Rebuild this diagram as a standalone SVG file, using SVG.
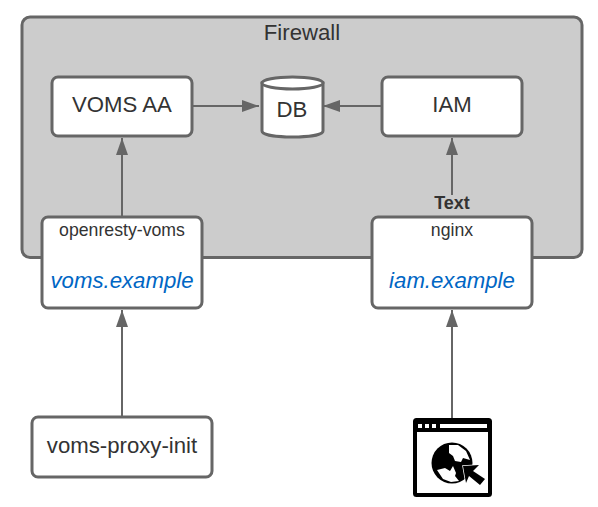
<svg xmlns="http://www.w3.org/2000/svg" width="598" height="507" viewBox="0 0 598 507">
<style>
text{font-family:"Liberation Sans",Arial,sans-serif;fill:#333;text-anchor:middle}
.box{fill:#fff;stroke:#666;stroke-width:3}
.conn{fill:none;stroke:#666;stroke-width:2}
.url{font-style:italic;fill:#0066c4;font-size:22.2px}
.big{font-size:22.2px}
.small{font-size:17.700px}
</style>
<defs>
<marker id="arrow" markerUnits="userSpaceOnUse" markerWidth="18" markerHeight="14" refX="17" refY="6.500" orient="auto">
<path d="M0 0.500L17 6.500L0 12.500Z" fill="#666"/>
</marker>
</defs>
<g id="firewall">
<rect x="22" y="17" width="560" height="240.500" rx="8" fill="#ccc" stroke="#666" stroke-width="3"/>
<text x="302" y="40" class="big">Firewall</text>
</g>
<g id="connectors">
<path class="conn" d="M193 106H259" marker-end="url(#arrow)"/>
<path class="conn" d="M381 106H323" marker-end="url(#arrow)"/>
<path class="conn" d="M122 216V138" marker-end="url(#arrow)"/>
<path class="conn" d="M452 195V138" marker-end="url(#arrow)"/>
<path class="conn" d="M122 416V310" marker-end="url(#arrow)"/>
<path class="conn" d="M452 418V310" marker-end="url(#arrow)"/>
<text x="452" y="209" font-size="18" font-weight="bold">Text</text>
</g>
<g id="voms-aa">
<rect class="box" x="52" y="77" width="140" height="59" rx="6"/>
<text x="122" y="112" class="big">VOMS AA</text>
</g>
<g id="db">
<path class="box" d="M262 83V131C262 139 323 139 323 131V83Z"/>
<ellipse cx="292.500" cy="83" rx="30.500" ry="6" fill="#fff" stroke="#666" stroke-width="3"/>
<text x="292" y="117" class="big">DB</text>
</g>
<g id="iam">
<rect class="box" x="382" y="77" width="140" height="59" rx="6"/>
<text x="452" y="112" class="big">IAM</text>
</g>
<g id="openresty-voms">
<rect class="box" x="42" y="217" width="160" height="91" rx="6"/>
<text x="122" y="236" class="small">openresty-voms</text>
<text x="122" y="288" class="url">voms.example</text>
</g>
<g id="nginx">
<rect class="box" x="372" y="217" width="160" height="91" rx="6"/>
<text x="452" y="236" class="small">nginx</text>
<text x="452" y="288" class="url">iam.example</text>
</g>
<g id="voms-proxy-init">
<rect class="box" x="32" y="417" width="180" height="60" rx="6"/>
<text x="122" y="453" class="big">voms-proxy-init</text>
</g>
<g id="browser">
<rect x="415" y="420" width="75" height="75" rx="1.500" fill="#fff" stroke="#000" stroke-width="4"/>
<rect x="415" y="420" width="75" height="12" fill="#000"/>
<rect x="418" y="424" width="4" height="4" fill="#fff"/>
<rect x="425" y="424" width="4" height="4" fill="#fff"/>
<rect x="432" y="424" width="4" height="4" fill="#fff"/>
<rect x="440" y="424" width="47" height="4" fill="#fff"/>
<circle cx="452" cy="463" r="20.500" fill="#000"/>
<path d="M449 445L458 445L466 451L470 460L463 458L461 462L455 461L453 456L449 453Z" fill="#fff"/>
<path d="M437 470L445 468L450 471L453 466L456 473L455 476L459 481L451 482L443 479Z" fill="#fff"/>
<path d="M463 466L479 465L473 471L485 479L480 485L469 476L466 483Z" fill="#000" stroke="#fff" stroke-width="1.500" paint-order="stroke"/>
</g>
</svg>
